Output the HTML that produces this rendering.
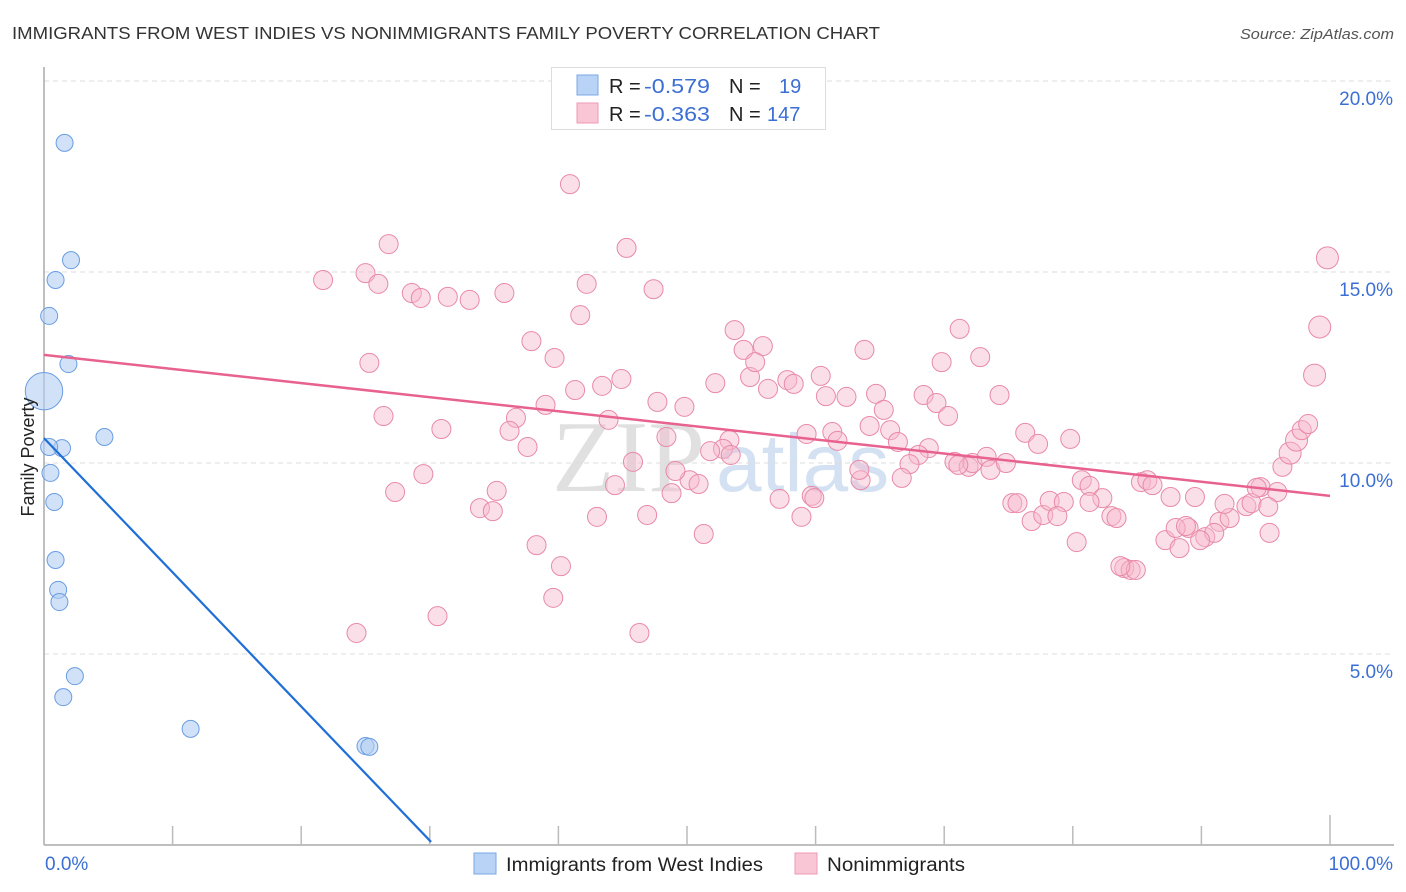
<!DOCTYPE html>
<html><head><meta charset="utf-8"><style>
body{margin:0;background:#fff;width:1406px;height:892px;overflow:hidden;font-family:"Liberation Sans",sans-serif;}
svg{display:block}
</style></head><body>
<svg id="chart" width="1406" height="892">
<text x="12" y="39" font-size="17.5" fill="#333" textLength="868" lengthAdjust="spacingAndGlyphs">IMMIGRANTS FROM WEST INDIES VS NONIMMIGRANTS FAMILY POVERTY CORRELATION CHART</text>
<text x="1240" y="39" font-size="15" fill="#555" font-style="italic" textLength="154" lengthAdjust="spacingAndGlyphs">Source: ZipAtlas.com</text>
<g>
<text x="552" y="491" font-family="Liberation Serif,serif" font-size="102" fill="#d6d6d6" opacity="0.75">ZIP</text>
<text x="716" y="491" font-size="82" fill="#c5d7f0" opacity="0.75">atlas</text>
</g>
<g id="grid"></g>
<g id="axes"></g>
<g id="marks"></g>
<text transform="translate(34,457) rotate(-90)" font-size="18" fill="#222" text-anchor="middle">Family Poverty</text>
<g>
<rect x="551.5" y="67.5" width="274" height="62" fill="#fff" stroke="#ddd"/>
<rect x="577" y="75" width="21" height="20" fill="#b8d3f5" stroke="#7aa8e6"/>
<rect x="577" y="103" width="21" height="20" fill="#f9c6d5" stroke="#ee9ab5"/>
<text x="609" y="93" font-size="20" fill="#222">R = <tspan x="644" fill="#3b6fd4" textLength="66" lengthAdjust="spacingAndGlyphs">-0.579</tspan><tspan x="729">N = </tspan><tspan x="779" fill="#3b6fd4">19</tspan></text>
<text x="609" y="121" font-size="20" fill="#222">R = <tspan x="644" fill="#3b6fd4" textLength="66" lengthAdjust="spacingAndGlyphs">-0.363</tspan><tspan x="729">N = </tspan><tspan x="767" fill="#3b6fd4">147</tspan></text>
</g>
<g>
<rect x="474" y="853" width="22" height="21" fill="#b8d3f5" stroke="#7aa8e6"/>
<text x="506" y="871" font-size="19" fill="#222" textLength="257" lengthAdjust="spacingAndGlyphs">Immigrants from West Indies</text>
<rect x="795" y="853" width="22" height="21" fill="#f9c6d5" stroke="#ee9ab5"/>
<text x="827" y="871" font-size="19" fill="#222" textLength="138" lengthAdjust="spacingAndGlyphs">Nonimmigrants</text>
</g>
</svg>
<script>
const yTicks=[5,10,15,20];
const yTickLabels=["5.0%","10.0%","15.0%","20.0%"];
const xTicks=[0,10,20,30,40,50,60,70,80,90,100];
const xEndLabels=["0.0%","100.0%"];
const blueX=[1.6,2.1,0.9,0.4,1.9,0,4.7,1.4,0.4,0.5,0.8,0.9,1.1,1.2,2.4,1.5,11.4,25.0,25.3];
const blueY=[18.38,15.31,14.79,13.85,12.59,11.88,10.68,10.39,10.42,9.74,8.98,7.46,6.68,6.36,4.42,3.87,3.04,2.59,2.57];
const blueSize=[1,1,1,1,1,2.2,1,1,1,1,1,1,1,1,1,1,1,1,1];
const pinkX=[40.9,26.8,45.3,21.7,25.0,26.0,42.2,28.6,29.3,31.4,33.1,35.8,47.4,41.7,37.9,25.3,39.7,53.7,54.4,55.9,71.2,63.8,69.8,72.8,99.8,99.2,98.8,54.9,55.3,52.2,56.3,57.8,58.3,60.4,60.8,62.4,64.7,68.4,69.4,74.3,41.3,43.4,44.9,47.7,49.8,39.0,36.7,26.4,30.9,36.2,37.6,43.9,48.4,53.3,52.8,53.4,51.8,59.3,61.3,61.7,64.2,65.3,65.8,66.4,70.3,68.8,68.0,70.8,71.9,72.2,73.3,73.6,74.8,76.3,77.3,79.8,80.7,81.3,82.3,81.3,83.0,85.3,85.8,86.2,87.6,89.5,89.0,87.2,88.0,88.8,88.3,90.3,91.4,92.2,91.0,91.8,93.5,93.9,94.6,95.9,95.2,95.3,96.3,96.9,97.4,97.8,98.3,75.3,75.7,76.8,77.7,78.2,79.3,78.8,80.3,83.4,84.0,84.5,84.9,83.7,71.1,67.3,66.7,63.5,63.4,59.7,59.9,57.2,58.9,50.2,50.9,49.1,48.8,45.8,44.4,43.0,46.9,51.3,29.5,27.3,33.9,34.9,35.2,38.3,40.2,39.6,24.3,30.6,46.3,89.9,94.3];
const pinkY=[17.30,15.73,15.63,14.79,14.97,14.69,14.69,14.45,14.32,14.35,14.27,14.45,14.55,13.87,13.19,12.62,12.75,13.48,12.96,13.06,13.51,12.96,12.64,12.77,15.37,13.56,12.30,12.25,12.64,12.09,11.94,12.17,12.07,12.28,11.75,11.73,11.81,11.78,11.57,11.78,11.91,12.02,12.20,11.60,11.47,11.52,11.18,11.23,10.89,10.84,10.42,11.13,10.68,10.60,10.37,10.21,10.31,10.76,10.81,10.58,10.97,11.39,10.86,10.55,11.23,10.39,10.21,10.03,9.90,10.00,10.16,9.82,10.00,10.79,10.50,10.63,9.55,9.40,9.08,8.98,8.61,9.50,9.55,9.42,9.11,9.11,8.30,7.98,8.30,8.35,7.77,8.06,8.46,8.56,8.17,8.93,8.87,8.95,9.37,9.24,8.85,8.17,9.90,10.26,10.60,10.86,11.02,8.95,8.95,8.48,8.64,9.01,8.98,8.61,7.93,8.56,7.25,7.20,7.20,7.30,9.95,9.97,9.61,9.55,9.82,9.14,9.08,9.06,8.59,9.55,9.45,9.79,9.21,10.03,9.42,8.59,8.64,8.14,9.71,9.24,8.82,8.74,9.27,7.85,7.30,6.47,5.55,5.99,5.55,7.98,9.35];
const pinkBig=[24,25,26,103,104];
const blueTrend=[[0,10.65],[30.1,0.08]];
const pinkTrend=[[0,12.83],[100,9.14]];

const NS="http://www.w3.org/2000/svg";
const X0=44,X1=1330,Y0=845,PXPER=38.2;
function sx(v){return X0+(X1-X0)*v/100;}
function sy(v){return Y0-v*PXPER;}
function mk(tag,attrs,parent){const e=document.createElementNS(NS,tag);for(const k in attrs)e.setAttribute(k,attrs[k]);parent.appendChild(e);return e;}
const grid=document.getElementById('grid'),axes=document.getElementById('axes'),marks=document.getElementById('marks');
yTicks.forEach((t,i)=>{
  const l=mk('line',{x1:X0,x2:1394,y1:sy(t),y2:sy(t),stroke:'#ddd','stroke-dasharray':'5,4'},grid);
  
  
  const tx=mk('text',{x:1393,y:sy(t)+24,'font-size':19,fill:'#3b6fd4','text-anchor':'end'},axes);
  tx.textContent=yTickLabels[i];
  
  
});
const ax=mk('line',{x1:X0,x2:1394,y1:Y0,y2:Y0,stroke:'#aaa','stroke-width':1.5},axes);


const ay=mk('line',{x1:X0,x2:X0,y1:67,y2:Y0,stroke:'#aaa','stroke-width':1.5},axes);


xTicks.forEach(t=>{
  const l=mk('line',{x1:sx(t),x2:sx(t),y1:(t===100?815:826),y2:Y0,stroke:'#bbb','stroke-width':1.5},axes);
  
  
});
const xl0=mk('text',{x:45,y:870,'font-size':19,fill:'#3b6fd4'},axes);xl0.textContent=xEndLabels[0];


const xl1=mk('text',{x:1393,y:870,'font-size':19,fill:'#3b6fd4','text-anchor':'end'},axes);xl1.textContent=xEndLabels[1];


pinkX.forEach((v,i)=>{
  const r=pinkBig.includes(i)?11:9.5;
  const c=mk('circle',{cx:sx(v),cy:sy(pinkY[i]),r:r,fill:'#f7b8cb','fill-opacity':0.45,stroke:'#e88aa8','stroke-width':1},marks);
  
  
});
blueX.forEach((v,i)=>{
  const c=mk('circle',{cx:sx(v),cy:sy(blueY[i]),r:8.5*blueSize[i],fill:'#b3cff3','fill-opacity':0.6,stroke:'#6a9de0','stroke-width':1},marks);
  
  
});
const pl=mk('line',{x1:sx(pinkTrend[0][0]),y1:sy(pinkTrend[0][1]),x2:sx(pinkTrend[1][0]),y2:sy(pinkTrend[1][1]),stroke:'#e8628f','stroke-width':2.5},marks);


const bl=mk('line',{x1:sx(blueTrend[0][0]),y1:sy(blueTrend[0][1]),x2:sx(blueTrend[1][0]),y2:sy(blueTrend[1][1]),stroke:'#1f6fd6','stroke-width':2.2},marks);


</script>
</body></html>
